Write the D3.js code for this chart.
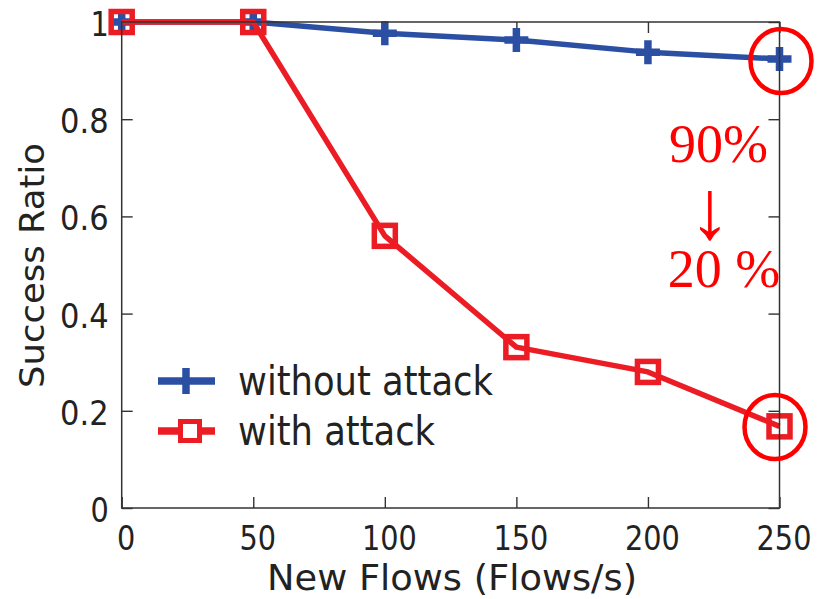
<!DOCTYPE html>
<html>
<head>
<meta charset="utf-8">
<script src="https://cdn.jsdelivr.net/npm/d3@7"></script>
<style>
  html, body { margin: 0; padding: 0; background: #fff; }
  svg { display: block; }
</style>
</head>
<body>
<svg id="chart" width="817" height="599"></svg>
<script>
// ---- data ----
const flows = [0, 50, 100, 150, 200, 250];
const withoutAttack = [1.0, 1.0, 0.977, 0.963, 0.938, 0.924];
const withAttack = [1.0, 1.0, 0.56, 0.331, 0.28, 0.168];
const seriesNames = ["without attack", "with attack"];
const xTicks = [0, 50, 100, 150, 200, 250];
const yTicks = [0, 0.2, 0.4, 0.6, 0.8, 1];
const yTickLabels = ["0", "0.2", "0.4", "0.6", "0.8", "1"];
const xLabel = "New Flows (Flows/s)";
const yLabel = "Success Ratio";
const annoTop = "90%";
const annoArrow = "\u2193";
const annoBottom = "20 %";

// ---- layout ----
const blue = "#2b4fa2";
const red = "#ec1c24";
const frameColor = "#333";
const svg = d3.select("#chart");
const x = d3.scaleLinear().domain([0, 250]).range([121.7, 779.5]);
const y = d3.scaleLinear().domain([0, 1]).range([508, 22]);
const axisFont = "'DejaVu Sans', Verdana, sans-serif";

function digitLen(s) {
  let w = 0;
  for (const c of s) w += (c === ".") ? 12 : 18.3;
  return w;
}

// axes (inward ticks, mirrored)
const gx = svg.append("g").attr("transform", `translate(0,${y(0)})`)
  .call(d3.axisBottom(x).tickValues(xTicks).tickSizeInner(-11).tickSizeOuter(0));
const gxTop = svg.append("g").attr("transform", `translate(0,${y(1)})`)
  .call(d3.axisTop(x).tickValues(xTicks).tickSizeInner(-11).tickSizeOuter(0).tickFormat(""));
const gy = svg.append("g").attr("transform", `translate(${x(0)},0)`)
  .call(d3.axisLeft(y).tickValues(yTicks).tickSizeInner(-11).tickSizeOuter(0)
    .tickFormat((d, i) => yTickLabels[i]));
const gyRight = svg.append("g").attr("transform", `translate(${x(250)},0)`)
  .call(d3.axisRight(y).tickValues(yTicks).tickSizeInner(-11).tickSizeOuter(0).tickFormat(""));

[gx, gxTop, gy, gyRight].forEach(g => {
  g.select(".domain").remove();
  g.selectAll(".tick line").attr("stroke", frameColor).attr("stroke-width", 1.4);
});

gx.selectAll(".tick text")
  .attr("y", 42).attr("dy", 0).attr("dx", 4)
  .attr("fill", "#222")
  .style("font-family", axisFont).style("font-size", "33px")
  .attr("textLength", function () { return digitLen(this.textContent); })
  .attr("lengthAdjust", "spacingAndGlyphs");

gy.selectAll(".tick text")
  .attr("x", -13).attr("dy", "0.41em")
  .attr("fill", "#222")
  .style("font-family", axisFont).style("font-size", "33px")
  .attr("textLength", function () { return digitLen(this.textContent); })
  .attr("lengthAdjust", "spacingAndGlyphs");

// series lines
const line = d3.line().x((d, i) => x(flows[i])).y(d => y(d));

svg.append("path").datum(withoutAttack)
  .attr("d", line).attr("fill", "none")
  .attr("stroke", blue).attr("stroke-width", 5.5).attr("stroke-linejoin", "round");

svg.append("g").selectAll("path").data(withoutAttack).join("path")
  .attr("d", (d, i) => {
    const cx = x(flows[i]), cy = y(d), h = 12;
    return `M${cx - h},${cy}H${cx + h}M${cx},${cy - h}V${cy + h}`;
  })
  .attr("stroke", blue).attr("stroke-width", 7.5).attr("fill", "none");

svg.append("path").datum(withAttack)
  .attr("d", line).attr("fill", "none")
  .attr("stroke", red).attr("stroke-width", 5.5).attr("stroke-linejoin", "round");

svg.append("g").selectAll("rect").data(withAttack).join("rect")
  .attr("x", (d, i) => x(flows[i]) - 10.5)
  .attr("y", d => y(d) - 10.5)
  .attr("width", 21).attr("height", 21)
  .attr("fill", "none")
  .attr("stroke", red).attr("stroke-width", 5.5);

// frame on top
svg.append("rect")
  .attr("x", x(0)).attr("y", y(1))
  .attr("width", x(250) - x(0)).attr("height", y(0) - y(1))
  .attr("fill", "none").attr("stroke", frameColor).attr("stroke-width", 1.5);

// axis titles
svg.append("text")
  .attr("x", (267 + 637) / 2).attr("y", 590)
  .attr("text-anchor", "middle")
  .attr("fill", "#222")
  .style("font-family", axisFont).style("font-size", "35px")
  .attr("textLength", 370).attr("lengthAdjust", "spacingAndGlyphs")
  .text(xLabel);

svg.append("text")
  .attr("transform", "translate(43.5,265.5) rotate(-90)")
  .attr("text-anchor", "middle")
  .attr("fill", "#222")
  .style("font-family", axisFont).style("font-size", "34.5px")
  .attr("textLength", 245).attr("lengthAdjust", "spacingAndGlyphs")
  .text(yLabel);

// legend
const legendY = [381, 431];
const legendWidths = [255, 197];
const leg = svg.append("g");
leg.append("line").attr("x1", 158).attr("x2", 215).attr("y1", legendY[0]).attr("y2", legendY[0])
  .attr("stroke", blue).attr("stroke-width", 7.5);
leg.append("line").attr("x1", 186).attr("x2", 186).attr("y1", legendY[0] - 13).attr("y2", legendY[0] + 13)
  .attr("stroke", blue).attr("stroke-width", 7.5);
leg.append("line").attr("x1", 158).attr("x2", 215).attr("y1", legendY[1]).attr("y2", legendY[1])
  .attr("stroke", red).attr("stroke-width", 7.5);
leg.append("rect").attr("x", 180.5).attr("y", legendY[1] - 9.5).attr("width", 19).attr("height", 19)
  .attr("fill", "#fff").attr("stroke", red).attr("stroke-width", 5);
leg.selectAll("text").data(seriesNames).join("text")
  .attr("x", 238).attr("y", (d, i) => legendY[i] + 14)
  .attr("fill", "#222")
  .style("font-family", axisFont).style("font-size", "41px")
  .attr("textLength", (d, i) => legendWidths[i]).attr("lengthAdjust", "spacingAndGlyphs")
  .text(d => d);

// annotations
const annoRed = "#ff0000";
svg.append("ellipse").attr("cx", 781).attr("cy", 61).attr("rx", 30.5).attr("ry", 32)
  .attr("fill", "none").attr("stroke", annoRed).attr("stroke-width", 4.5);
svg.append("ellipse").attr("cx", 775).attr("cy", 427).attr("rx", 30.5).attr("ry", 32)
  .attr("fill", "none").attr("stroke", annoRed).attr("stroke-width", 4.5);

const serif = "'Liberation Serif', 'Times New Roman', serif";
svg.append("text").attr("x", 718.5).attr("y", 162).attr("text-anchor", "middle")
  .attr("fill", annoRed).style("font-family", serif).style("font-size", "54px")
  .text(annoTop);
svg.append("text").attr("x", 710).attr("y", 238).attr("text-anchor", "middle")
  .attr("fill", annoRed).style("font-family", serif).style("font-size", "84px")
  .text(annoArrow);
svg.append("text").attr("x", 724).attr("y", 287).attr("text-anchor", "middle")
  .attr("fill", annoRed).style("font-family", serif).style("font-size", "54px")
  .text(annoBottom);
</script>
</body>
</html>
